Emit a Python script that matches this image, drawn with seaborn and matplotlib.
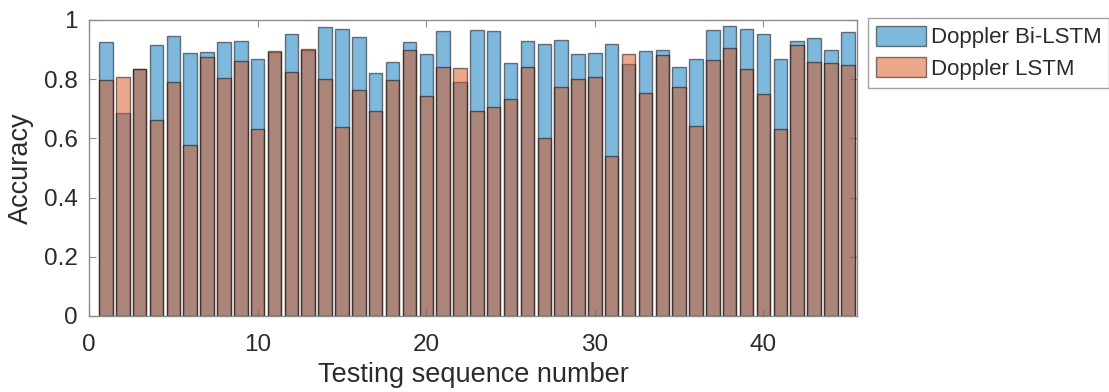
import numpy as np
import pandas as pd
import matplotlib
matplotlib.use("Agg")
import matplotlib.pyplot as plt
import seaborn as sns
from matplotlib.patches import Patch

# Per-sequence accuracy of the two Doppler models
sequence = list(range(1, 46))
bilstm_acc = [0.925, 0.686, 0.836, 0.917, 0.945, 0.888, 0.891, 0.924, 0.930, 0.869,
              0.891, 0.951, 0.900, 0.978, 0.969, 0.942, 0.821, 0.857, 0.924, 0.886,
              0.963, 0.792, 0.967, 0.963, 0.854, 0.928, 0.919, 0.933, 0.884, 0.889,
              0.919, 0.851, 0.896, 0.898, 0.840, 0.868, 0.965, 0.980, 0.970, 0.954,
              0.867, 0.930, 0.940, 0.898, 0.961]
lstm_acc = [0.797, 0.809, 0.836, 0.663, 0.790, 0.577, 0.876, 0.805, 0.861, 0.632,
            0.895, 0.824, 0.903, 0.801, 0.637, 0.762, 0.692, 0.796, 0.899, 0.744,
            0.842, 0.839, 0.692, 0.705, 0.732, 0.841, 0.600, 0.772, 0.801, 0.807,
            0.541, 0.884, 0.755, 0.881, 0.772, 0.641, 0.864, 0.907, 0.833, 0.749,
            0.633, 0.917, 0.858, 0.855, 0.848]
series_names = ["Doppler Bi-LSTM", "Doppler LSTM"]
y_ticks = [0, 0.2, 0.4, 0.6, 0.8, 1]
y_tick_labels = ["0", "0.2", "0.4", "0.6", "0.8", "1"]
x_ticks = [0, 10, 20, 30, 40]

df = pd.DataFrame({"seq": sequence, "bi": bilstm_acc, "lstm": lstm_acc})

sns.set_theme(style="white")
plt.rcParams["font.family"] = ["Liberation Sans", "DejaVu Sans"]

blue = (0.0, 0.447, 0.741)
orange = (0.850, 0.325, 0.098)

fig = plt.figure(figsize=(11.09, 3.92), dpi=100)
ax = fig.add_axes([0.0803, 0.194, 0.6925, 0.755])

sns.barplot(data=df, x="seq", y="bi", native_scale=True, width=0.8,
            color=blue, saturation=1, alpha=0.5, edgecolor="black",
            linewidth=1.0, ax=ax)
sns.barplot(data=df, x="seq", y="lstm", native_scale=True, width=0.8,
            color=orange, saturation=1, alpha=0.5, edgecolor="black",
            linewidth=1.0, ax=ax)

ax.set_xlim(0, 45.55)
ax.set_ylim(0, 1)
ax.set_xticks(x_ticks)
ax.set_xticklabels([str(t) for t in x_ticks])
ax.set_yticks(y_ticks)
ax.set_yticklabels(y_tick_labels)

axis_gray = "#8c8c8c"
text_col = "#2b2b2b"
for s in ax.spines.values():
    s.set_visible(True)
    s.set_color(axis_gray)
    s.set_linewidth(1.0)
ax.tick_params(axis="both", which="both", direction="in", length=5,
               width=0.8, color=axis_gray, labelsize=17.5, labelcolor=text_col,
               top=True, right=True, bottom=True, left=True)
ax.tick_params(axis="x", pad=13)
ax.tick_params(axis="y", pad=8)

ax.set_xlabel("Testing sequence number", fontsize=19.5, color=text_col, labelpad=4)
ax.set_ylabel("Accuracy", fontsize=19.5, color=text_col, labelpad=7)

handles = [
    Patch(facecolor=blue, alpha=0.5, edgecolor="black", linewidth=1.0),
    Patch(facecolor=orange, alpha=0.5, edgecolor="black", linewidth=1.0),
]
leg = fig.legend(handles, series_names, loc="upper left",
                 bbox_to_anchor=(868 / 1109, 1 - 18 / 392), frameon=True,
                 fancybox=False, fontsize=16, handlelength=2.25,
                 handleheight=1.0, handletextpad=0.22, borderpad=0.35,
                 labelspacing=0.4, borderaxespad=0)
leg.get_frame().set_edgecolor(axis_gray)
leg.get_frame().set_linewidth(1.0)
for t in leg.get_texts():
    t.set_color(text_col)

fig.savefig("out.png", dpi=100)
